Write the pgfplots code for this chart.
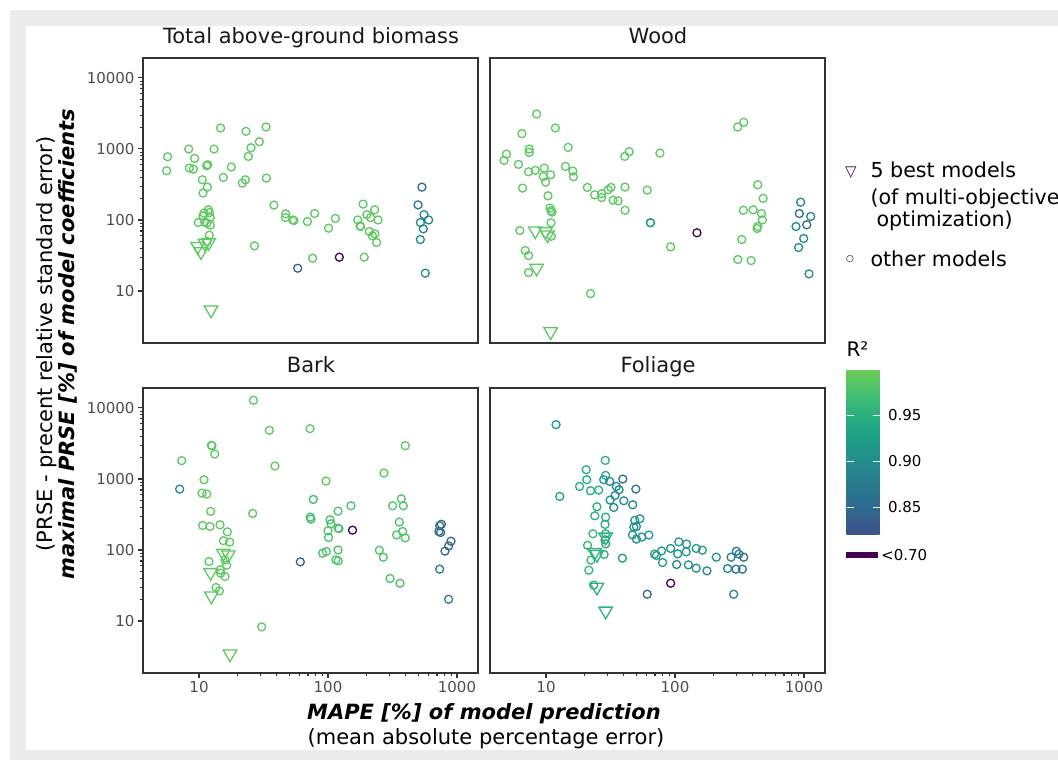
\documentclass[border=0pt]{standalone}
\usepackage{fontspec}
\setmainfont{DejaVu Sans}
\usepackage{pgfplots}
\pgfplotsset{compat=1.18}

\definecolor{bggray}{RGB}{236,236,236}
\definecolor{axgray}{RGB}{51,51,51}
\definecolor{txtgray}{RGB}{77,77,77}
\definecolor{lowr}{RGB}{68,1,84}
\newcommand\fs[1]{\fontsize{#1}{#1}\selectfont}

\pgfplotsset{
  colormap={rsq}{rgb255(0cm)=(59,82,139) rgb255(5cm)=(53,95,141) rgb255(10cm)=(47,108,142)
    rgb255(15cm)=(42,120,142) rgb255(20cm)=(37,132,142) rgb255(25cm)=(33,145,140)
    rgb255(30cm)=(30,156,137) rgb255(35cm)=(34,168,132) rgb255(40cm)=(47,180,124)
    rgb255(45cm)=(68,191,112) rgb255(50cm)=(94,201,98) rgb255(53cm)=(110,206,88)}
}
% common panel options, written out literally
\newcommand\facet[1]{\begin{axis}[
    width=335pt, height=285pt, scale only axis, anchor=south west,
    xmode=log, ymode=log, xmin=3.68, xmax=1455, ymin=1.85, ymax=19100,
    point meta min=0.82, point meta max=1.0,
    axis line style={axgray, line width=1.1pt},
    tick style={axgray, line width=1.1pt},
    tick align=outside, major tick length=5pt, tick pos=left,
    xtick={10,100,1000}, xticklabels={10,100,1000},
    ytick={10,100,1000,10000}, yticklabels={10,100,1000,10000},
    ticklabel style={font=\fs{15}, text=txtgray},
    clip=false, #1]}
\newcommand\circplot{\addplot[scatter, only marks, mark=o, mark size=4pt, scatter src=explicit,
    scatter/use mapped color={draw=mapped color}, mark options={line width=1.3pt}]}
\newcommand\triplot{\addplot[scatter, only marks, mark=triangle, mark size=7.8pt, scatter src=explicit,
    scatter/use mapped color={draw=mapped color}, mark options={rotate=180, line width=1.3pt}]}
\newcommand\lowplot{\addplot[only marks, mark=o, mark size=4pt, color=lowr, mark options={line width=1.3pt}]}

\begin{document}
\begin{tikzpicture}
\useasboundingbox (0pt,0pt) rectangle (1058pt,760pt);
\fill[white] (0pt,0pt) rectangle (1058pt,760pt);
\fill[bggray] (10pt,0pt) rectangle (1058pt,750pt);
\fill[white] (26pt,10pt) rectangle (1058pt,734pt);

% Total above-ground biomass
\facet{at={(143pt,417pt)}, xtick=\empty}
\circplot table[meta=r] {
x y r
5.71 777 .99
5.61 493 .99
8.32 997 .99
9.25 736 .99
8.41 538 .99
9.04 521 .99
11.47 580 .99
11.68 600 .99
13.07 997 .99
14.72 1972 .99
10.61 368 .99
11.61 290 .99
10.74 239 .99
17.81 556 .99
15.44 397 .99
23.14 1770 .99
25.3 1040 .99
29.36 1265 .99
33.07 2037 .99
24.12 785 .99
22.87 368 .99
21.67 330 .99
33.3 389 .99
38.1 162 .99
47.0 122 .99
46.7 108 .99
53.2 100 .99
54.5 98 .99
69.2 95 .99
78.8 123 .99
114 105 .99
101 76.6 .99
26.9 43.2 .99
76.0 28.9 .99
58.2 20.9 .84
187 167 .99
230 139 .99
200 119 .99
214 108 .99
170 100 .99
244 100 .99
177 82.6 .99
179 80.9 .99
209 68.7 .99
231 63.7 .99
221 59.7 .99
238 48.1 .99
191 29.9 .99
535 290 .85
499 163 .87
555 119 .90
603 100 .89
520 92 .90
548 75 .89
520 53 .90
568 17.8 .90
11.81 139 .99
10.93 125 .99
12.03 127 .99
12.24 108 .99
10.74 114 .99
9.88 92 .99
11.06 93 .99
12.24 84.5 .99
11.54 90 .99
12.03 61 .99
11.54 49.7 .99
};
\lowplot coordinates {(122.4,29.9)};
\triplot table[meta=r] {
x y r
9.76 42.3 .99
10.36 35.9 .99
11.13 47.1 .99
11.88 48.1 .99
12.39 5.4 .99
};
\end{axis}

% Wood
\facet{at={(490pt,417pt)}, xtick=\empty, ytick=\empty}
\circplot table[meta=r] {
x y r
8.46 3105 .99
11.82 1972 .99
6.50 1640 .99
14.84 1052 .99
4.94 847 .99
4.73 690 .99
7.41 997 .99
7.41 895 .99
6.12 606 .99
7.33 477 .99
8.26 499 .99
9.70 538 .99
9.53 410 .99
10.87 433 .99
9.94 341 .99
14.15 568 .99
16.14 488 .99
16.33 406 .99
6.58 281 .99
10.36 219 .99
10.74 147 .99
11.14 129 .99
10.94 135 .99
10.94 91.2 .99
11.0 59.0 .99
6.27 71.0 .99
20.9 287 .99
23.8 226 .99
27.0 234 .99
27.0 207 .99
30.3 266 .99
31.9 287 .99
33.1 190 .99
36.2 186 .99
41.0 290 .99
41.0 137 .99
40.8 785 .99
44.1 914 .99
76.4 875 .99
60.9 263 .99
64.3 92 .99
64.6 91 .93
92.5 41.8 .99
6.90 37.1 .99
7.33 31.5 .99
7.33 18.2 .99
22.15 9.18 .99
306 2037 .99
341 2371 .99
438 313 .99
482 201 .99
339 137 .99
403 139 .99
468 123 .99
476 100 .99
438 80.9 .99
433 75.8 .99
329 53 .99
307 27.7 .99
389 26.8 .99
942 178 .89
920 123 .86
1127 112 .89
1050 85.4 .86
867 80.9 .90
994 54.8 .90
908 40.9 .90
1094 17.4 .90
};
\lowplot coordinates {(148,65.9)};
\triplot table[meta=r] {
x y r
8.26 70.3 .99
9.88 68.7 .99
10.30 61.7 .99
8.46 20.9 .99
10.87 2.67 .99
};
\end{axis}

% Bark
\facet{at={(143pt,87pt)}}
\circplot table[meta=r] {
x y r
26.4 12830 .99
35.1 4842 .99
72.5 5111 .99
397 2942 .99
12.46 2974 .99
12.61 2942 .99
13.23 2245 .99
7.34 1808 .99
38.8 1520 .99
271.6 1211 .99
10.93 975 .99
96.5 934 .99
7.08 720 .90
10.55 632 .99
11.47 612 .99
76.9 515 .97
370 526 .98
317 419 .98
383.7 419 .98
150.7 419 .98
12.31 349 .99
26.06 327 .99
72.9 290 .97
73.8 272 .97
119.6 352 .98
103.7 266 .98
105.5 234 .98
10.67 221 .99
12.17 214 .99
14.55 226 .99
16.59 180 .99
100 186 .98
119.6 203 .98
121.7 199 .98
101 150 .98
357 247 .98
379 182 .98
340.6 163 .98
397 148 .98
15.44 135 .99
17.29 129 .99
90.9 90 .98
97 95 .98
119.6 100 .98
115 72.6 .98
120 70.3 .98
250 99.3 .98
268.5 79.1 .98
11.95 68.7 .99
15.91 72.6 .99
16.39 61.1 .99
14.63 52.5 .99
14.72 47.1 .99
15.91 42.3 .99
302.6 39.6 .98
361.6 34.0 .98
13.55 29.6 .99
14.38 26.5 .99
61.0 68.0 .84
30.6 8.24 .99
734 219 .85
756 230 .85
724 182 .86
747 176 .86
898 133 .85
861 114 .85
807 96.2 .85
734 53.6 .88
861 20.2 .89
};
\lowplot coordinates {(155,190)};
\triplot table[meta=r] {
x y r
15.44 90 .99
16.88 85.4 .99
12.31 48.1 .99
12.46 22.5 .99
17.39 3.43 .99
};
\end{axis}

% Foliage
\facet{at={(490pt,87pt)}, ytick=\empty,
  colorbar, colorbar/width=33pt,
  colorbar style={at={(parent axis.north east)}, anchor=north west,
    xshift=13pt, yshift=19pt, scale only axis, height=166pt,
    ytick={0.85,0.9,0.95}, yticklabels={0.85,0.90,0.95},
    ytick pos=both, yticklabel pos=right,
    tick align=inside, major tick length=7pt,
    tick style={white, line width=1pt},
    axis line style={draw=none},
    yticklabel style={font=\fs{15}, text=black, xshift=5pt}}}
\circplot table[meta=r] {
x y r
11.97 5821 .92
12.78 568 .93
28.8 1827 .95
20.5 1349 .95
20.7 975 .95
18.2 785 .95
22.15 682 .95
25.6 697 .95
29.0 1122 .95
28.0 975 .92
31.2 924 .89
39.4 997 .87
35.1 785 .91
36.8 705 .90
34.3 586 .90
31.4 504 .90
33.5 397 .90
40.1 493 .91
47.0 433 .90
49.7 720 .87
24.8 406 .95
23.9 303 .95
29.0 290 .95
28.7 229 .95
23.1 169 .96
29.0 169 .95
28.7 139 .94
29.0 122 .94
21.0 116 .96
28.2 86.4 .95
22.3 71.8 .96
21.5 51.9 .96
39.1 76.6 .92
23.4 31.9 .95
48.8 261 .91
53.4 275 .91
47.9 210 .91
50.2 214 .91
46.8 163 .91
50.2 142 .91
55.3 152 .91
62.7 162 .92
69.4 87.3 .92
71.9 83.5 .92
78.7 97 .92
80.1 66.5 .92
92.5 105 .92
107 130 .92
105 88.2 .91
103 62.4 .89
123 121 .92
122 94 .92
127 61.7 .91
146 105 .92
146 55.3 .91
163 99.3 .92
177 50.8 .90
209 79.1 .91
256 54.8 .89
272 79.1 .88
299 96 .87
313 87.3 .88
341 79.1 .86
297 53.6 .87
333 53.6 .87
285 23.8 .89
60.9 23.8 .85
};
\lowplot coordinates {(92.5,34.0)};
\triplot table[meta=r] {
x y r
29.0 152 .955
23.8 92 .955
24.8 86.4 .955
24.8 29.9 .955
29.0 13.8 .955
};
\end{axis}

% panel titles
\node[anchor=base, font=\fs{21}, text=black!90] at (311pt,716pt) {Total above-ground biomass};
\node[anchor=base, font=\fs{21}, text=black!90] at (658pt,716pt) {Wood};
\node[anchor=base, font=\fs{21}, text=black!90] at (311pt,387pt) {Bark};
\node[anchor=base, font=\fs{21}, text=black!90] at (658pt,387pt) {Foliage};

% axis titles
\node[anchor=base, font=\fs{21}\bfseries\itshape] at (484pt,40pt) {MAPE [\%] of model prediction};
\node[anchor=base, font=\fs{21}] at (486pt,15pt) {(mean absolute percentage error)};
\node[rotate=90, anchor=base, font=\fs{21}] at (52pt,416pt) {(PRSE - precent relative standard error)};
\node[rotate=90, anchor=base, font=\fs{21}\bfseries\itshape] at (74pt,416pt) {maximal PRSE [\%] of model coefficients};

% legend
\node[font=\fs{15}, text=lowr] at (851pt,587pt) {▽};
\node[anchor=base west, font=\fs{20.6}] at (867pt,582pt) {5 best models};
\node[anchor=base west, font=\fs{20.6}] at (867pt,555pt) {(of multi-objective};
\node[anchor=base west, font=\fs{20.6}] at (873pt,533pt) {optimization)};
\node[font=\fs{9}] at (850pt,501pt) {○};
\node[anchor=base west, font=\fs{20.6}] at (867pt,493pt) {other models};

\node[anchor=base west, font=\fs{20}] at (843pt,403pt) {R²};
\fill[lowr] (846pt,202.3pt) rectangle (878pt,208.3pt);
\node[anchor=west, font=\fs{15}, inner sep=0pt] at (881pt,205pt) {<0.70};
\end{tikzpicture}
\end{document}
